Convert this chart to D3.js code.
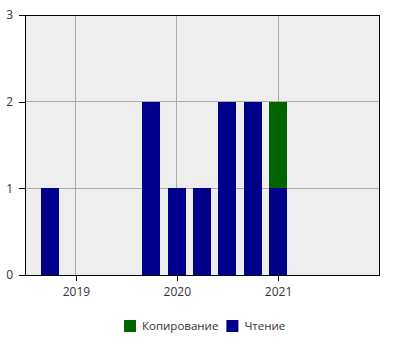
<!DOCTYPE html>
<html>
<head>
<meta charset="utf-8">
<script src="https://cdn.jsdelivr.net/npm/d3@7"></script>
<style>
  body { margin: 0; background: #fff; }
  text { font-family: "Open Sans", "Noto Sans", sans-serif; fill: #333; }
</style>
</head>
<body>
<div id="chart"></div>
<script>
// периоды (начало квартала)
var periods = ['2018-10-01', '2019-10-01', '2020-01-01', '2020-04-01', '2020-07-01', '2020-10-01', '2021-01-01'];
// серии
var readCounts = [1, 2, 1, 1, 2, 2, 1];
var copyCounts = [0, 0, 0, 0, 0, 0, 1];
var seriesNames = ['Копирование', 'Чтение'];
var seriesColors = ['#006400', '#00008b'];
var yTicks = [0, 1, 2, 3];
var xTickYears = ['2019', '2020', '2021'];

var margin = { top: 15, right: 21, bottom: 75, left: 25 };
var width = 400 - margin.left - margin.right;
var height = 350 - margin.top - margin.bottom;

var parseDate = d3.timeParse('%Y-%m-%d');
var parseYear = d3.timeParse('%Y');

var data = periods.map(function(p, i) {
    return { date: parseDate(p), read: readCounts[i], copy: copyCounts[i] };
});

var svg = d3.select('#chart').append('svg')
    .attr('width', 400)
    .attr('height', 350)
    .append('g')
    .attr('transform', 'translate(' + margin.left + ',' + margin.top + ')');

var x = d3.scaleTime()
    .domain([parseDate('2018-07-01'), parseDate('2022-01-01')])
    .range([0, width]);
var y = d3.scaleLinear().domain([0, 3]).range([height, 0]);

// фон
svg.append('rect')
    .attr('width', width)
    .attr('height', height)
    .attr('fill', '#eeeeee');

// сетка
var xTickDates = xTickYears.map(function(v) { return parseYear(v); });
svg.append('g').selectAll('line').data(xTickDates).enter().append('line')
    .attr('x1', function(d) { return x(d); })
    .attr('x2', function(d) { return x(d); })
    .attr('y1', 0).attr('y2', height)
    .attr('stroke', '#aaaaaa').attr('stroke-width', 1)
    .attr('shape-rendering', 'crispEdges');
svg.append('g').selectAll('line').data(yTicks).enter().append('line')
    .attr('x1', 0).attr('x2', width)
    .attr('y1', function(d) { return y(d); })
    .attr('y2', function(d) { return y(d); })
    .attr('stroke', '#aaaaaa').attr('stroke-width', 1)
    .attr('shape-rendering', 'crispEdges');

// столбцы
var stack = d3.stack().keys(['read', 'copy']);
var layers = stack(data);
var colorOf = { read: seriesColors[1], copy: seriesColors[0] };
var barW = 18;

svg.append('g').selectAll('g').data(layers).enter().append('g')
    .attr('fill', function(d) { return colorOf[d.key]; })
    .selectAll('rect').data(function(d) { return d; }).enter().append('rect')
    .attr('x', function(d) { return x(d.data.date) - barW / 2; })
    .attr('width', barW)
    .attr('y', function(d) { return y(d[1]); })
    .attr('height', function(d) { return y(d[0]) - y(d[1]); })
    .attr('shape-rendering', 'crispEdges');

// рамка
svg.append('rect')
    .attr('width', width)
    .attr('height', height)
    .attr('fill', 'none')
    .attr('stroke', '#000')
    .attr('stroke-width', 1)
    .attr('shape-rendering', 'crispEdges');

// оси
var xAxis = svg.append('g')
    .attr('transform', 'translate(0,' + height + ')')
    .call(d3.axisBottom(x).tickValues(xTickDates).tickFormat(d3.timeFormat('%Y'))
        .tickSizeInner(6).tickSizeOuter(0).tickPadding(6));
var yAxis = svg.append('g')
    .call(d3.axisLeft(y).tickValues(yTicks).tickFormat(d3.format('d'))
        .tickSizeInner(6).tickSizeOuter(0).tickPadding(6));

[xAxis, yAxis].forEach(function(a) {
    a.select('.domain').attr('stroke', '#000').attr('shape-rendering', 'crispEdges');
    a.selectAll('.tick line').attr('stroke', '#000').attr('shape-rendering', 'crispEdges');
    a.selectAll('text').attr('font-size', 12).attr('font-family', '"Open Sans", "Noto Sans", sans-serif').attr('fill', '#333');
});

// легенда
var legend = svg.append('g')
    .attr('transform', 'translate(' + (124 - margin.left) + ',' + (320 - margin.top) + ')');
var lx = 0;
seriesNames.forEach(function(name, i) {
    var g = legend.append('g').attr('transform', 'translate(' + lx + ',0)');
    g.append('rect').attr('width', 12).attr('height', 12).attr('fill', seriesColors[i]);
    var t = g.append('text')
        .attr('x', 18)
        .attr('y', 10)
        .attr('font-size', 11.5)
        .text(name);
    lx += 18 + t.node().getComputedTextLength() + 8;
});
</script>
</body>
</html>
